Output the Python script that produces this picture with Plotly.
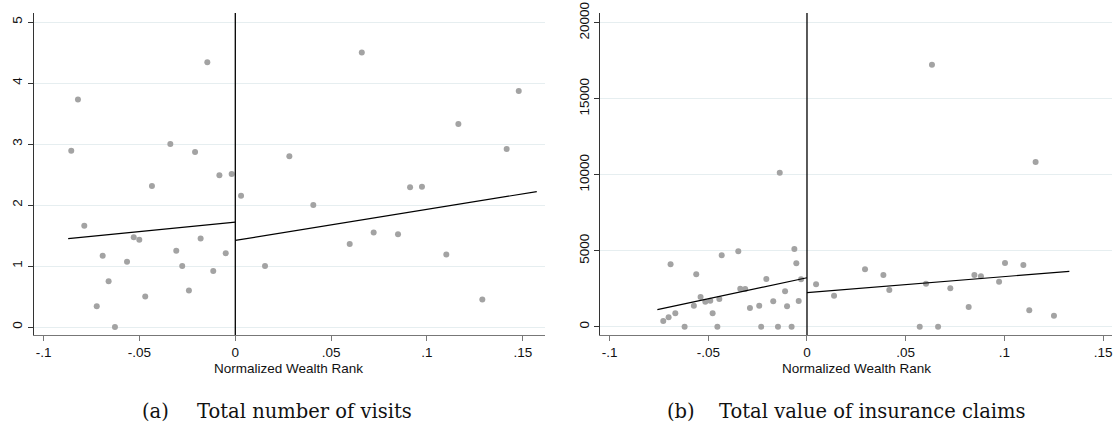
import plotly.graph_objects as go

# ---------------- data ----------------
# Panel (a): Total number of visits
visits_x = [-0.0856, -0.0821, -0.0146, -0.0339, -0.0210, -0.0083, -0.0019, -0.0435, 0.0030,
            -0.0788, -0.0530, -0.0501, -0.0692, -0.0565, -0.0661, -0.0723, -0.0628, -0.0470,
            -0.0308, -0.0277, -0.0242, -0.0181, -0.0115, -0.0050, 0.0155,
            0.0660, 0.0282, 0.1164, 0.1479, 0.1416, 0.0912, 0.0974,
            0.0407, 0.0597, 0.0722, 0.0849, 0.1101, 0.1289]
visits_y = [2.89, 3.73, 4.34, 3.00, 2.87, 2.49, 2.51, 2.31, 2.15,
            1.66, 1.47, 1.43, 1.17, 1.07, 0.75, 0.34, 0.00, 0.50,
            1.25, 1.00, 0.60, 1.45, 0.92, 1.21, 1.00,
            4.50, 2.80, 3.33, 3.87, 2.92, 2.29, 2.30,
            2.00, 1.36, 1.55, 1.52, 1.19, 0.45]
visits_fit_left_x = [-0.0872, 0.0]
visits_fit_left_y = [1.45, 1.72]
visits_fit_right_x = [0.0, 0.1573]
visits_fit_right_y = [1.42, 2.22]

# Panel (b): Total value of insurance claims
claims_x = [-0.0138, 0.0633, 0.1158,
            -0.0691, -0.0728, -0.0701, -0.0667, -0.0620, -0.0561, -0.0573, -0.0539, -0.0515,
            -0.0490, -0.0478, -0.0454, -0.0444, -0.0432, -0.0348, -0.0338, -0.0313, -0.0289,
            -0.0242, -0.0232, -0.0206, -0.0171, -0.0147, -0.0111, -0.0101, -0.0078, -0.0064,
            -0.0054, -0.0042, -0.0030, 0.0046, 0.0137,
            0.0294, 0.0387, 0.0417, 0.0603, 0.0571, 0.0664, 0.0726, 0.0819, 0.0848, 0.0881,
            0.0973, 0.1003, 0.1096, 0.1126, 0.1251]
claims_y = [10130, 17240, 10840,
            4105, 375, 620, 880, 0, 3450, 1380, 1950, 1645,
            1710, 880, 0, 1820, 4700, 4960, 2500, 2480, 1230,
            1380, 0, 3140, 1670, 0, 2330, 1340, 0, 5110,
            4170, 1690, 3120, 2790, 2040,
            3780, 3400, 2410, 2830, 0, 0, 2530, 1300, 3400, 3320,
            2960, 4190, 4060, 1080, 720]
claims_fit_left_x = [-0.0758, 0.0]
claims_fit_left_y = [1120, 3220]
claims_fit_right_x = [0.0, 0.1329]
claims_fit_right_y = [2240, 3645]

x_tickvals = [-0.1, -0.05, 0, 0.05, 0.1, 0.15]
x_ticktext = ["-.1", "-.05", "0", ".05", ".1", ".15"]
y1_tickvals = [0, 1, 2, 3, 4, 5]
y1_ticktext = ["0", "1", "2", "3", "4", "5"]
y2_tickvals = [0, 5000, 10000, 15000, 20000]
y2_ticktext = ["0", "5000", "10000", "15000", "20000"]

captions = [("(a)", "Total number of visits"), ("(b)", "Total value of insurance claims")]
xtitle = "Normalized Wealth Rank"

# ---------------- style ----------------
W, H = 1118, 426
MARK = "#a3a3a3"
GRID = "#e6eef0"
AXC = "#333333"
FONT = "Liberation Sans"
SERIF = "DejaVu Serif"

fig = go.Figure()

def add_panel(xs, ys, fx1, fy1, fx2, fy2, xa, ya):
    fig.add_trace(go.Scatter(x=xs, y=ys, mode="markers", xaxis=xa, yaxis=ya,
                             marker=dict(color=MARK, size=6, line=dict(width=0)),
                             showlegend=False, hoverinfo="skip"))
    for fx, fy in ((fx1, fy1), (fx2, fy2)):
        fig.add_trace(go.Scatter(x=fx, y=fy, mode="lines", xaxis=xa, yaxis=ya,
                                 line=dict(color="black", width=1.2),
                                 showlegend=False, hoverinfo="skip"))

add_panel(visits_x, visits_y, visits_fit_left_x, visits_fit_left_y,
          visits_fit_right_x, visits_fit_right_y, "x", "y")
add_panel(claims_x, claims_y, claims_fit_left_x, claims_fit_left_y,
          claims_fit_right_x, claims_fit_right_y, "x2", "y2")

ydom = [1 - 335 / H, 1 - 13 / H]

def xaxis(dom, rng, anchor):
    return dict(domain=dom, range=rng, anchor=anchor, tickvals=x_tickvals, ticktext=x_ticktext,
                showgrid=False, zeroline=False, showline=True, linecolor="#777777", linewidth=1,
                ticks="outside", ticklen=5, tickcolor="#777777", tickwidth=1, automargin=False,
                tickfont=dict(family=FONT, size=13.5, color="#111111"))

def yaxis(rng, anchor, tv, tt):
    return dict(domain=ydom, range=rng, anchor=anchor, tickvals=tv, ticktext=tt,
                showgrid=True, gridcolor=GRID, gridwidth=1, zeroline=False,
                showline=True, linecolor=AXC, linewidth=1, automargin=False,
                ticks="outside", ticklen=5, tickcolor=AXC, tickwidth=1, tickangle=-90,
                tickfont=dict(family=FONT, size=13.5, color="#111111"))

fig.update_layout(
    width=W, height=H, margin=dict(l=0, r=0, t=0, b=0, pad=0, autoexpand=False),
    paper_bgcolor="white", plot_bgcolor="white",
    xaxis=xaxis([33.5 / W, 545 / W], [-0.1053, 0.1616], "y"),
    yaxis=yaxis([-0.131, 5.148], "x", y1_tickvals, y1_ticktext),
    xaxis2=xaxis([600.3 / W, 1112 / W], [-0.1047, 0.1545], "y2"),
    yaxis2=yaxis([-546, 20638], "x2", y2_tickvals, y2_ticktext),
)

# vertical line at x = 0 in each panel
for xr, yr in (("x", "y domain"), ("x2", "y2 domain")):
    fig.add_shape(type="line", xref=xr, yref=yr, x0=0, x1=0, y0=0, y1=1,
                  line=dict(color="black", width=1.3))

# axis titles and captions
for cx, (lab, cap), lx, tx in ((289 / W, captions[0], 140, 195), (856 / W, captions[1], 665, 717)):
    fig.add_annotation(x=cx, y=1 - 368.5 / H, xref="paper", yref="paper", text=xtitle,
                       showarrow=False, xanchor="center", yanchor="middle",
                       font=dict(family=FONT, size=13.5, color="#111111"))
    fig.add_annotation(x=lx / W, y=1 - 411 / H, xref="paper", yref="paper", text=lab,
                       showarrow=False, xanchor="left", yanchor="middle",
                       font=dict(family=SERIF, size=19.5, color="#111111"))
    fig.add_annotation(x=tx / W, y=1 - 411 / H, xref="paper", yref="paper", text=cap,
                       showarrow=False, xanchor="left", yanchor="middle",
                       font=dict(family=SERIF, size=19.5, color="#111111"))

fig.write_html("out.html", config={"displayModeBar": False},
               post_script="document.body.style.margin='0';")
